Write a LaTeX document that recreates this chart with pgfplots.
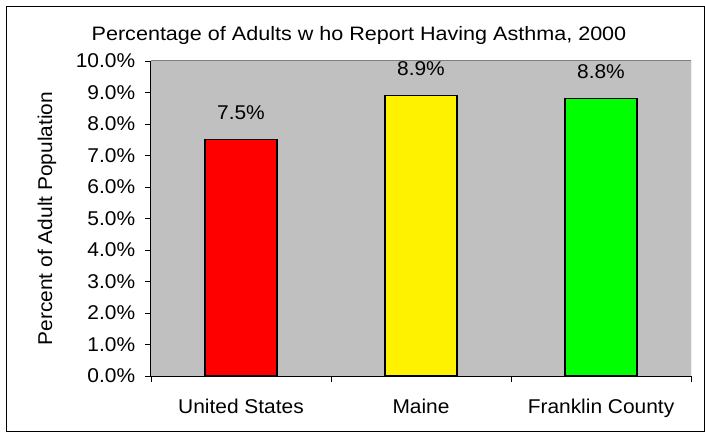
\documentclass[border=0pt]{standalone}
\usepackage{fontspec}
\setmainfont[FakeStretch=1.05]{Liberation Sans}
\newfontfamily\titlefont[FakeStretch=1.11]{Liberation Sans}
\usepackage{pgfplots}
\pgfplotsset{compat=1.18}
\definecolor{plotgray}{HTML}{C0C0C0}
\definecolor{framegray}{HTML}{808080}
\begin{document}
\fontsize{20}{24}\selectfont
\begin{tikzpicture}[x=1bp,y=1bp]
\useasboundingbox (-151,-56) rectangle (554,376);
\draw[black, line width=1bp] (-144,-55) rectangle (553,370);
\begin{axis}[
  at={(0,0)}, anchor=south west,
  scale only axis, width=540bp, height=315bp,
  /pgf/number format/assume math mode=true,
  xmin=-0.5, xmax=2.5, ymin=0, ymax=10,
  ytick={0,1,...,10},
  yticklabel={\pgfmathprintnumber[fixed,fixed zerofill,precision=1]{\tick}\%},
  every y tick label/.append style={xshift=-3bp},
  xtick={-0.5,0.5,1.5,2.5},
  x tick label as interval,
  xticklabels={United States,Maine,Franklin County},
  every x tick label/.append style={yshift=-10bp},
  tick align=outside, major tick length=6bp,
  tick style={black, line width=0.8bp},
  axis x line*=bottom, axis y line*=left,
  axis line style={black, line width=1bp},
  axis background/.style={fill=plotgray},
  ybar, bar width=72bp, bar shift=0bp,
  nodes near coords={\pgfmathprintnumber[fixed,fixed zerofill,precision=1]{\pgfplotspointmeta}\%},
  every node near coord/.append style={anchor=base, yshift=20bp, black},
  title={Percentage of Adults w ho Report Having Asthma, 2000},
  title style={at={([xshift=-62bp,yshift=20bp]axis description cs:0.5,1)}, anchor=center, inner sep=0pt, font=\titlefont\fontsize{19.5}{23}\selectfont},
  ylabel={Percent of Adult Population},
  ylabel style={at={([xshift=-104bp]axis description cs:0,0.5)}, anchor=center, rotate=0},
]
\addplot[draw=black, line width=1.2bp, fill=red] coordinates {(0,7.5)};
\addplot[draw=black, line width=1.2bp, fill=yellow] coordinates {(1,8.9)};
\addplot[draw=black, line width=1.2bp, fill={rgb,255:red,0;green,255;blue,0}] coordinates {(2,8.8)};
\draw[framegray, line width=1bp] (rel axis cs:0,1) -- (rel axis cs:1,1) -- (rel axis cs:1,0);
\end{axis}
\end{tikzpicture}
\end{document}
